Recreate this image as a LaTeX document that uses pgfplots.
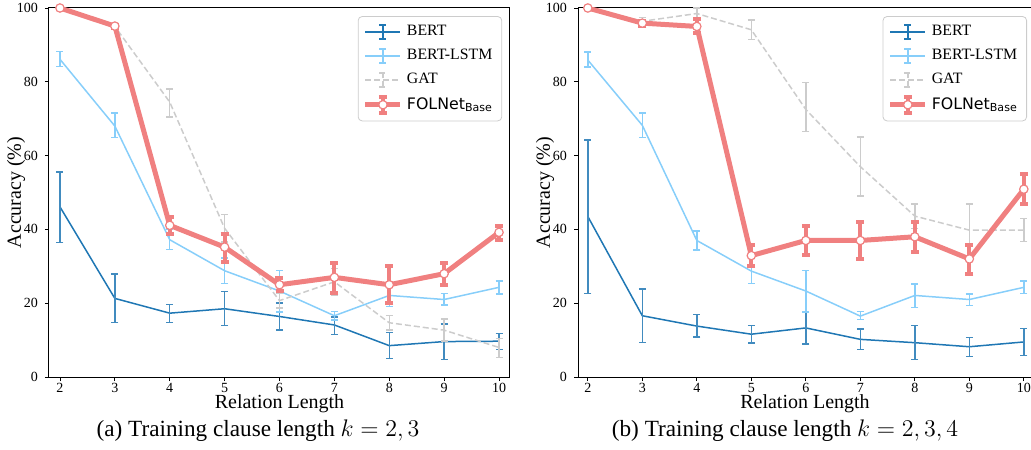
\documentclass[border=0pt]{standalone}
\usepackage{fontspec}
\setmainfont{Liberation Serif}
\newfontfamily\dejavu{DejaVu Sans}
\usepackage{pgfplots}
\usepackage{pgfplotstable}
\pgfplotsset{compat=1.18}

\definecolor{bertblue}{HTML}{1F77B4}
\definecolor{lstmblue}{HTML}{87CEFA}
\definecolor{gatgrey}{HTML}{CCCCCC}
\definecolor{folred}{HTML}{F08080}

% columns: relation length, mean, +err, -err
\pgfplotstableread{
x y ep em
2 46.1 9.5 9.7
3 21.3 6.6 6.5
4 17.3 2.4 2.5
5 18.5 4.7 4.6
6 16.4 3.6 3.7
7 14.1 2.2 2.6
8 8.5 3.6 3.5
9 9.6 4.7 4.8
10 9.7 2.1 2.2
}\bertA
\pgfplotstableread{
x y ep em
2 86.1 2.1 2.0
3 68.0 3.5 3.1
4 37.2 2.8 2.7
5 28.8 3.4 3.4
6 23.3 5.6 5.7
7 16.6 1.1 1.2
8 22.1 3.0 3.0
9 21.0 1.6 1.5
10 24.3 1.7 1.8
}\lstmA
\pgfplotstableread{
x y ep em
2 100.0 0.3 0.3
3 95.0 0.5 0.5
4 74.5 3.5 4.0
5 40.3 3.7 3.7
6 20.7 2.0 2.0
7 25.8 3.6 3.6
8 14.7 1.9 1.9
9 12.7 3.0 3.0
10 8.0 2.5 2.7
}\gatA
\pgfplotstableread{
x y ep em
2 100.0 0.3 0.3
3 95.1 0.4 0.4
4 41.1 2.3 2.3
5 35.2 3.6 4.0
6 25.0 1.8 1.6
7 27.0 3.8 4.2
8 25.0 5.0 5.0
9 28.0 3.0 3.1
10 39.2 1.6 2.0
}\folA

\pgfplotstableread{
x y ep em
2 43.5 20.7 20.9
3 16.6 7.2 7.2
4 13.8 3.1 3.0
5 11.6 2.4 2.4
6 13.3 4.3 4.3
7 10.2 2.8 2.8
8 9.3 4.6 4.6
9 8.2 2.5 2.6
10 9.5 3.6 3.7
}\bertB
\pgfplotstableread{
x y ep em
2 85.9 2.2 1.9
3 68.2 3.4 3.3
4 37.0 2.5 2.6
5 28.7 3.4 3.4
6 23.3 5.6 5.7
7 16.5 1.2 0.9
8 22.1 3.1 3.2
9 21.0 1.5 1.6
10 24.3 1.7 1.7
}\lstmB
\pgfplotstableread{
x y ep em
2 100.0 0.3 0.3
3 96.4 1.0 1.0
4 98.5 1.5 1.5
5 94.1 2.6 2.7
6 72.5 7.3 6.0
7 57.0 8.0 8.0
8 43.6 3.3 3.3
9 39.8 7.1 7.1
10 39.8 3.1 3.1
}\gatB
\pgfplotstableread{
x y ep em
2 100.0 0.3 0.3
3 95.9 0.7 0.7
4 95.0 1.9 1.9
5 32.9 3.0 2.9
6 37.0 3.9 4.0
7 37.0 4.9 5.0
8 38.0 3.9 4.0
9 32.0 3.9 4.0
10 50.9 4.0 3.9
}\folB

\pgfplotsset{
  panel/.style={
    scale only axis, height=184.5pt,
    ymin=0, ymax=100, ytick={0,20,40,60,80,100}, xtick={2,...,10},
    tick pos=left, tick align=outside, major tick length=2pt,
    tick style={black, line width=0.4pt},
    axis line style={line width=0.5pt},
    ticklabel style={font=\fontsize{7}{8}\selectfont},
    xticklabel style={inner sep=1pt, yshift=0pt},
    /pgf/number format/assume math mode=true,
    label style={font=\fontsize{8.7}{10}\selectfont},
    xlabel={Relation Length}, ylabel={Accuracy (\%)},
    every axis x label/.style={at={([yshift=-15.7pt]rel axis cs:0.5,0)}, anchor=base, inner sep=0pt},
    every axis y label/.style={at={([xshift=-16.5pt]rel axis cs:0,0.5)}, rotate=90, anchor=center},
    legend cell align=left,
    legend style={anchor=north east, draw=black!20, rounded corners=2pt,
      fill=white, font=\fontsize{7.9}{9.5}\selectfont, row sep=1.3pt, inner sep=2.4pt},
  },
  bertstyle/.style={bertblue, line width=0.75pt, no markers,
    legend image code/.code={
      \draw[bertblue, line width=0.75pt] (0pt,0pt) -- (17.5pt,0pt);
      \draw[bertblue, line width=0.75pt] (8.75pt,-3.5pt) -- (8.75pt,3.5pt)
        (7pt,-3.5pt) -- (10.5pt,-3.5pt) (7pt,3.5pt) -- (10.5pt,3.5pt);},
    error bars/.cd, y dir=both, y explicit,
    error bar style={line width=0.75pt, bertblue!85!white},
    error mark options={rotate=90, line width=0.75pt, mark size=1.75pt, bertblue!85!white}},
  lstmstyle/.style={lstmblue, line width=0.75pt, no markers,
    legend image code/.code={
      \draw[lstmblue, line width=0.75pt] (0pt,0pt) -- (17.5pt,0pt);
      \draw[lstmblue, line width=0.75pt] (8.75pt,-3.5pt) -- (8.75pt,3.5pt)
        (7pt,-3.5pt) -- (10.5pt,-3.5pt) (7pt,3.5pt) -- (10.5pt,3.5pt);},
    error bars/.cd, y dir=both, y explicit,
    error bar style={line width=0.75pt, lstmblue},
    error mark options={rotate=90, line width=0.75pt, mark size=1.75pt, lstmblue}},
  gatstyle/.style={gatgrey, line width=0.75pt, dash pattern=on 3pt off 1.5pt, no markers,
    legend image code/.code={
      \draw[gatgrey, line width=0.75pt, dash pattern=on 3pt off 1.5pt] (0pt,0pt) -- (17.5pt,0pt);
      \draw[gatgrey, line width=0.75pt] (8.75pt,-3.5pt) -- (8.75pt,3.5pt)
        (7pt,-3.5pt) -- (10.5pt,-3.5pt) (7pt,3.5pt) -- (10.5pt,3.5pt);},
    error bars/.cd, y dir=both, y explicit,
    error bar style={line width=0.75pt, gatgrey, solid},
    error mark options={rotate=90, line width=0.75pt, mark size=1.75pt, gatgrey, solid}},
  folstyle/.style={folred, line width=2.5pt, mark=*, mark size=2.1pt,
    mark options={fill=white, draw=folred, line width=0.6pt},
    legend image code/.code={
      \draw[folred, line width=2.5pt] (0pt,0pt) -- (17.5pt,0pt);
      \draw[folred, line width=2pt] (8.75pt,-4pt) -- (8.75pt,4pt)
        (6.75pt,-4pt) -- (10.75pt,-4pt) (6.75pt,4pt) -- (10.75pt,4pt);
      \draw[fill=white, draw=folred, line width=0.6pt] (8.75pt,0pt) circle (2.1pt);},
    error bars/.cd, y dir=both, y explicit,
    error bar style={line width=2pt, folred},
    error mark options={rotate=90, line width=2pt, mark size=2pt, folred}},
}

\begin{document}
\begin{tikzpicture}
\useasboundingbox (0pt,0pt) rectangle (515.5pt,224.5pt);

\begin{axis}[panel, at={(24.5pt,36pt)}, anchor=south west,
  width=230.5pt, xmin=1.8, xmax=10.2,
  legend style={at={(0.983,0.978)}}]
\addplot[bertstyle] table[x=x, y=y, y error plus=ep, y error minus=em] {\bertA};
\addlegendentry{BERT}
\addplot[lstmstyle] table[x=x, y=y, y error plus=ep, y error minus=em] {\lstmA};
\addlegendentry{BERT-LSTM}
\addplot[gatstyle] table[x=x, y=y, y error plus=ep, y error minus=em] {\gatA};
\addlegendentry{GAT}
\addplot[folstyle] table[x=x, y=y, y error plus=ep, y error minus=em] {\folA};
\addlegendentry{{\dejavu FOLNet\textsubscript{Base}}}
\end{axis}

\begin{axis}[panel, at={(289pt,36pt)}, anchor=south west,
  width=227pt, xmin=1.82, xmax=10.15,
  legend style={at={(0.989,0.978)}}]
\addplot[bertstyle] table[x=x, y=y, y error plus=ep, y error minus=em] {\bertB};
\addlegendentry{BERT}
\addplot[lstmstyle] table[x=x, y=y, y error plus=ep, y error minus=em] {\lstmB};
\addlegendentry{BERT-LSTM}
\addplot[gatstyle] table[x=x, y=y, y error plus=ep, y error minus=em] {\gatB};
\addlegendentry{GAT}
\addplot[folstyle] table[x=x, y=y, y error plus=ep, y error minus=em] {\folB};
\addlegendentry{{\dejavu FOLNet\textsubscript{Base}}}
\end{axis}

\node[anchor=base, font=\fontsize{11.6}{14}\selectfont] at (129pt,6.5pt) {(a)~Training clause length $k=2,3$};
\node[anchor=base, font=\fontsize{11.6}{14}\selectfont] at (392.5pt,6.5pt) {(b)~Training clause length $k=2,3,4$};
\end{tikzpicture}
\end{document}
